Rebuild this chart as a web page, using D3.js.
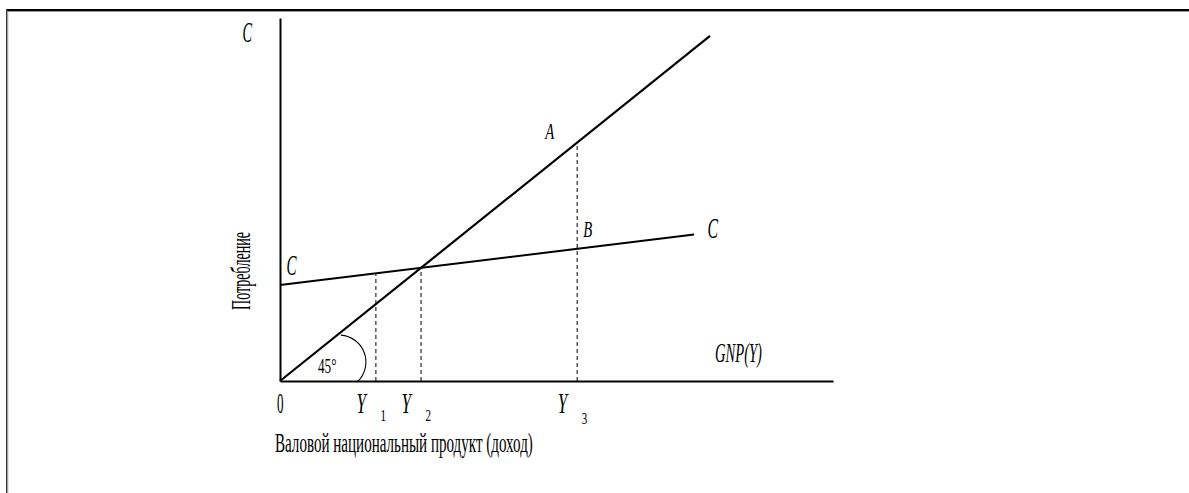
<!DOCTYPE html>
<html>
<head>
<meta charset="utf-8">
<script src="https://cdn.jsdelivr.net/npm/d3@7"></script>
<style>
  html, body { margin: 0; padding: 0; background: #ffffff; }
  svg { display: block; }
  text { font-family: "Liberation Serif", "DejaVu Serif", serif; fill: #000; }
</style>
</head>
<body>
<svg id="chart" width="1189" height="493"></svg>
<script>
// ---------------- data ----------------
const xDomain = [0, 128.6];          // national product (income) axis extent
const yDomain = [0, 105.2];          // consumption axis extent
const line45Y = [0, 100];            // 45° line: C = Y
const consX = [0, 96.3];             // consumption function C
const consC = [27.8, 42.44];
const markerNames = ["Y", "Y", "Y"];
const markerSubs = ["1", "2", "3"];
const markerValues = [22.3, 32.8, 69.1];
const markerTops = [31.19, 32.8, 69.1];
const pointLabels = ["A", "B"];
const pointX = [69.1, 69.1];
const pointY = [69.1, 38.3];
const xAxisTitle = "Валовой национальный продукт (доход)";
const yAxisTitle = "Потребление";
const angleLabel = "45°";

// ---------------- setup ----------------
const svg = d3.select("#chart");
const x = d3.scaleLinear().domain(xDomain).range([280, 833]);
const y = d3.scaleLinear().domain(yDomain).range([381, 18]);

// frame
svg.append("rect").attr("x", 6).attr("y", 9).attr("width", 1183).attr("height", 2).attr("fill", "#000");
svg.append("rect").attr("x", 6).attr("y", 11).attr("width", 1183).attr("height", 1).attr("fill", "#999");
svg.append("rect").attr("x", 6).attr("y", 9).attr("width", 1.5).attr("height", 484).attr("fill", "#333");
svg.append("rect").attr("x", 7.5).attr("y", 11).attr("width", 0.8).attr("height", 482).attr("fill", "#aaa");

// axes (domain lines only)
const xAxis = svg.append("g").attr("transform", `translate(0,${y(0)})`)
  .call(d3.axisBottom(x).tickValues([]).tickSizeOuter(0));
const yAxis = svg.append("g").attr("transform", `translate(${x(0)},0)`)
  .call(d3.axisLeft(y).tickValues([]).tickSizeOuter(0));
[xAxis, yAxis].forEach(g => g.select(".domain").attr("stroke", "#000").attr("stroke-width", 2));

const line = d3.line().x(d => x(d[0])).y(d => y(d[1]));

// dashed verticals
markerValues.forEach((v, i) => {
  svg.append("path")
    .attr("d", line([[v, 0], [v, markerTops[i]]]))
    .attr("stroke", "#000").attr("stroke-width", 1)
    .attr("stroke-dasharray", "4,3").attr("fill", "none");
});

// 45° line
svg.append("path")
  .attr("d", line(line45Y.map(v => [v, v])))
  .attr("stroke", "#000").attr("stroke-width", 2.2).attr("fill", "none");

// consumption line
svg.append("path")
  .attr("d", line(consX.map((v, i) => [v, consC[i]])))
  .attr("stroke", "#000").attr("stroke-width", 2).attr("fill", "none");

// angle arc
const p = d3.path();
const cx = x(13.7), cy = y(5.5);
p.arc(cx, cy, 27, -1.50, 0.80, false);
svg.append("path").attr("d", p.toString())
  .attr("stroke", "#000").attr("stroke-width", 1.1).attr("fill", "none");

// ---------------- labels ----------------
function label(txt, px, py, size, width, opts = {}) {
  const g = svg.append("g");
  const t = g.append("text").text(txt)
    .style("font-size", size + "px")
    .style("font-style", opts.italic ? "italic" : "normal");
  const natural = t.node().getComputedTextLength();
  const sx = width / natural;
  const rot = opts.rotate ? ` rotate(${opts.rotate})` : "";
  g.attr("transform", `translate(${px},${py})${rot} scale(${sx},1)`);
  return g;
}

label("C", 242.5, 41.5, 29, 9.5, { italic: true });
label("C", 286.5, 275, 29, 10, { italic: true });
label("C", 707.5, 238, 29, 10.5, { italic: true });
label(pointLabels[0], x(pointX[0]) - 32, y(pointY[0]) - 4, 24, 9, { italic: true });
label(pointLabels[1], x(pointX[1]) + 6, y(pointY[1]) - 12, 24, 9, { italic: true });
label("GNP(Y)", 715, 362, 27, 47, { italic: true });
label(angleLabel, 318, 372.5, 22, 18.5);
label("0", 277, 413, 29, 6.5);

markerValues.forEach((v, i) => {
  const subY = i === 2 ? 424 : 420.5;
  label(markerNames[i], x(v) - 19.5, 413, 29, 9.5, { italic: true });
  label(markerSubs[i], x(v) + 4.5, subY, 17, 5.5);
});

label(xAxisTitle, 275, 452, 28, 258);
label(yAxisTitle, 250, 310, 28, 78, { rotate: -90 });
</script>
</body>
</html>
